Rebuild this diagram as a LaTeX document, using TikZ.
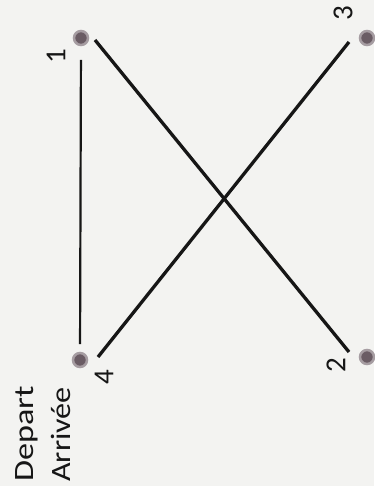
\documentclass[tikz,border=0pt]{standalone}
\usepackage{fontspec}
\setmainfont{Carlito}
\definecolor{paper}{HTML}{F3F3F1}
\definecolor{ink}{HTML}{161616}
\definecolor{dotgrey}{HTML}{6A5C64}
\begin{document}
\begin{tikzpicture}[x=1pt,y=1pt,
  dotnode/.style={circle,fill=dotgrey,draw=dotgrey!60,line width=2.5pt,minimum size=14pt,inner sep=0pt},
  numlbl/.style={font=\fontsize{29}{29}\selectfont,text=ink,rotate=90,inner sep=0pt},
  wordlbl/.style={font=\fontsize{28}{28}\selectfont,text=ink,rotate=90,inner sep=0pt,anchor=base west},
  thinline/.style={draw=ink,line width=2.2pt},
  thickline/.style={draw=ink,line width=3.3pt}]
\fill[paper] (0,0) rectangle (374,-486);
\useasboundingbox (0,0) rectangle (374,-486);
% dots
\node[dotnode] (n1) at (81,-38) {};
\node[dotnode] (n3) at (367,-38) {};
\node[dotnode] (n4) at (80,-360) {};
\node[dotnode] (n2) at (367,-357) {};
% number labels
\node[numlbl] (l1) at (56,-56) {1};
\node[numlbl] (l3) at (343,-13) {3};
\node[numlbl] (l4) at (104,-377) {4};
\node[numlbl] (l2) at (336,-365) {2};
% words
\node[wordlbl] (dep) at (33,-482) {\scalebox{1.22}[1]{Depart}};
\node[wordlbl] (arr) at (70,-482) {\scalebox{1.15}[1]{Arrivée}};
% line ends
\coordinate (e12a) at (95,-40);
\coordinate (e12b) at (349,-352);
\coordinate (e43a) at (98,-357);
\coordinate (e43b) at (349,-42);
% connectors
\draw[thinline,shorten <=22pt,shorten >=16pt] (n1.center) -- (n4.center);
\draw[thickline] (e12a) -- (e12b);
\draw[thickline] (e43a) -- (e43b);
\end{tikzpicture}
\end{document}
